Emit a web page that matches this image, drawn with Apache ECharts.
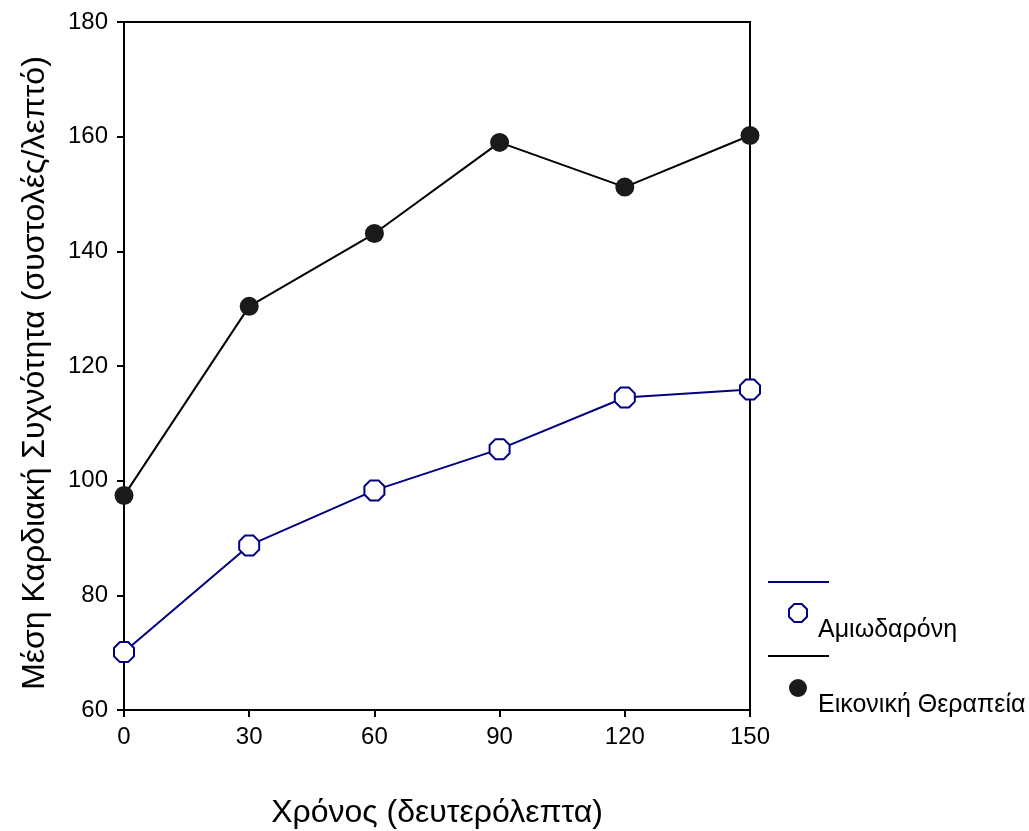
<!DOCTYPE html>
<html>
<head>
<meta charset="utf-8">
<script src="https://cdn.jsdelivr.net/npm/echarts@6/dist/echarts.min.js"></script>
<style>html,body{margin:0;padding:0;background:#fff;}#chart{width:1029px;height:831px;}</style>
</head>
<body>
<div id="chart"></div>
<script>
const times = [0, 30, 60, 90, 120, 150];
const amiodarone = [70.1, 88.7, 98.3, 105.5, 114.5, 115.9];
const placebo = [97.4, 130.4, 143.1, 159.0, 151.2, 160.2];
const seriesNames = ['Αμιωδαρόνη', 'Εικονική Θεραπεία'];
const xTitle = 'Χρόνος (δευτερόλεπτα)';
const yTitle = 'Μέση Καρδιακή Συχνότητα (συστολές/λεπτό)';

const FONT = '"Liberation Sans", Arial, sans-serif';
const chart = echarts.init(document.getElementById('chart'), null, {renderer: 'canvas'});
const octagon = 'path://M-0.414,-1L0.414,-1L1,-0.414L1,0.414L0.414,1L-0.414,1L-1,0.414L-1,-0.414Z';

chart.setOption({
  animation: false,
  backgroundColor: '#fff',
  textStyle: {fontFamily: FONT},
  grid: {left: 124, top: 22, right: 279, bottom: 121, show: true, borderColor: '#000', borderWidth: 2, backgroundColor: 'transparent', containLabel: false, outerBoundsMode: 'none'},
  xAxis: {
    type: 'value', min: 0, max: 150, interval: 30,
    name: xTitle, nameLocation: 'middle', nameGap: 87,
    nameTextStyle: {fontSize: 32, color: '#000', fontFamily: FONT},
    axisLine: {lineStyle: {color: '#000', width: 2}},
    axisTick: {show: true, length: 7, lineStyle: {color: '#000', width: 2}},
    axisLabel: {color: '#000', fontSize: 24, margin: 15, fontFamily: FONT},
    splitLine: {show: false}
  },
  yAxis: {
    type: 'value', min: 60, max: 180, interval: 20,
    name: yTitle, nameLocation: 'middle', nameGap: 73, nameRotate: 90,
    nameTextStyle: {fontSize: 32, color: '#000', fontFamily: FONT, padding: [0, 14, 0, 0]},
    axisLine: {show: true, lineStyle: {color: '#000', width: 2}},
    axisTick: {show: true, length: 7, lineStyle: {color: '#000', width: 2}},
    axisLabel: {color: '#000', fontSize: 24, margin: 16, fontFamily: FONT, padding: [4, 0, 0, 0]},
    splitLine: {show: false}
  },
  legend: {
    orient: 'vertical', left: 783, top: 574, itemWidth: 18, itemHeight: 18, itemGap: 7,
    data: [
      {name: seriesNames[0], icon: octagon, itemStyle: {color: '#fff', borderColor: '#000080', borderWidth: 2}},
      {name: seriesNames[1], icon: 'circle', itemStyle: {color: '#1a1a1a'}}
    ],
    formatter: name => '\n{t|' + name + '}',
    textStyle: {
      fontSize: 25, color: '#000', fontFamily: FONT, lineHeight: 34,
      rich: {t: {fontSize: 25, color: '#000', fontFamily: FONT, lineHeight: 34, padding: [0, 0, 0, 6]}}
    },
    selectedMode: false
  },
  graphic: [
    {type: 'line', shape: {x1: 768, y1: 582, x2: 829, y2: 582}, style: {stroke: '#000080', lineWidth: 2}},
    {type: 'line', shape: {x1: 768, y1: 656, x2: 829, y2: 656}, style: {stroke: '#000', lineWidth: 2}}
  ],
  series: [
    {
      name: seriesNames[0], type: 'line',
      data: times.map((t, i) => [t, amiodarone[i]]),
      symbol: octagon, symbolSize: 20,
      lineStyle: {color: '#000080', width: 2},
      itemStyle: {color: '#fff', borderColor: '#000080', borderWidth: 2},
      z: 3
    },
    {
      name: seriesNames[1], type: 'line',
      data: times.map((t, i) => [t, placebo[i]]),
      symbol: 'circle', symbolSize: 19,
      lineStyle: {color: '#000', width: 2},
      itemStyle: {color: '#1a1a1a'},
      z: 3
    }
  ]
});
</script>
</body>
</html>
